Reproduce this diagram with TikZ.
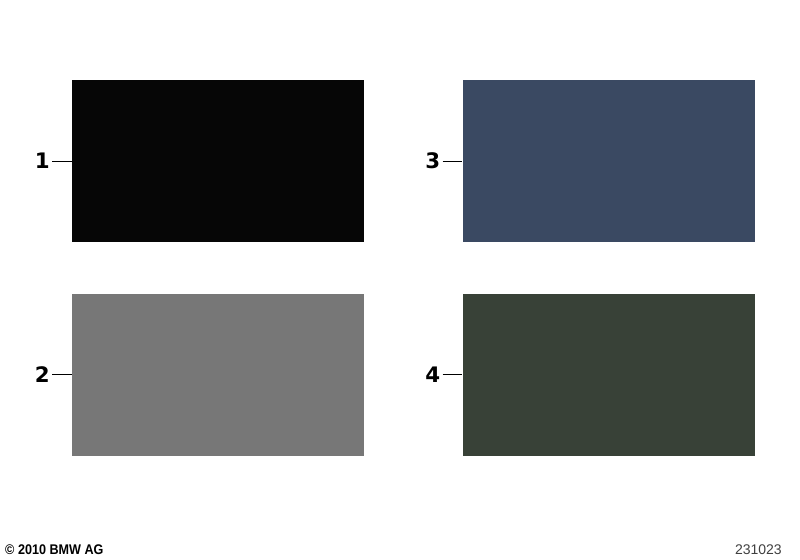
\documentclass[tikz,border=0pt]{standalone}
\usepackage{fontspec}
\setmainfont{Liberation Sans}
\newfontfamily\numfont{DejaVu Sans}
\definecolor{swblack}{HTML}{060606}
\definecolor{swgray}{HTML}{777777}
\definecolor{swblue}{HTML}{3A4962}
\definecolor{swgreen}{HTML}{384137}
\tikzstyle{panel}=[draw=none,minimum width=219pt,minimum height=121.5pt,inner sep=0pt]
\tikzstyle{num}=[font=\numfont\bfseries\fontsize{16}{16}\selectfont,inner sep=1.5pt]
\tikzstyle{foot}=[font=\fontsize{10.5}{12}\selectfont,inner sep=0pt]

\begin{document}
\begin{tikzpicture}[x=0.75pt,y=-0.75pt]
	\useasboundingbox[fill=white] (0,0) rectangle (800,560);
	\foreach \i/\x/\y/\c in {1/218/161/swblack,2/218/374.5/swgray,3/608.5/161/swblue,4/608.5/374.5/swgreen} {
		\node[num,anchor=east] (l\i) at (\x-166,\y) {\i};
		\node[panel,fill=\c] (p\i) at (\x,\y) {};
		\draw[line width=0.7pt] (l\i.east) -- (p\i.west);
	}
	\node[foot,font=\bfseries\fontsize{10.5}{12}\selectfont,anchor=base west,xscale=0.9] (copy) at (5,554) {© 2010 BMW AG};
	\node[foot,anchor=base east,text=black!75] (ref) at (782,554) {231023};
\end{tikzpicture}
\end{document}
